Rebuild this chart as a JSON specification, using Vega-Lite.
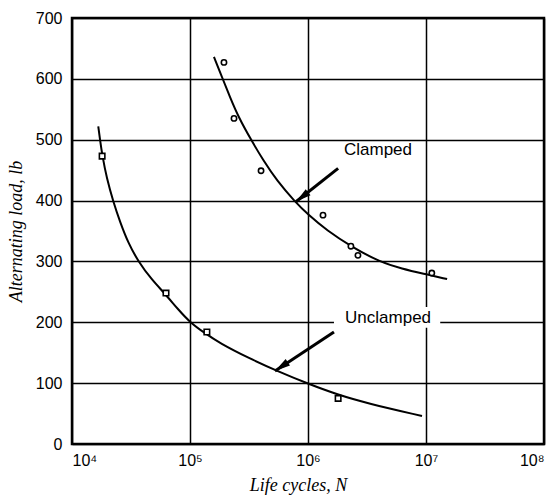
{
  "$schema": "https://vega.github.io/schema/vega-lite/v6.json",
  "width": 472,
  "height": 426,
  "autosize": "none",
  "padding": {"left": 72, "top": 18, "right": 14, "bottom": 57},
  "background": "white",
  "config": {
    "view": {"stroke": "black", "strokeWidth": 2.5},
    "axis": {"domain": false, "ticks": false, "grid": true, "gridColor": "black", "gridWidth": 1.5, "gridOpacity": 1,
             "labelFont": "Liberation Sans", "labelFontSize": 16, "labelColor": "black",
             "titleFont": "Liberation Serif", "titleFontStyle": "italic", "titleFontWeight": "normal", "titleFontSize": 18, "titleColor": "black"}
  },
  "datasets": {
    "clampedPts": [
      {"N": 194000, "load": 627},
      {"N": 236000, "load": 535},
      {"N": 400000, "load": 449},
      {"N": 1340000, "load": 376},
      {"N": 2310000, "load": 325},
      {"N": 2650000, "load": 310},
      {"N": 11200000, "load": 281}
    ],
    "unclampedPts": [
      {"N": 18000, "load": 473},
      {"N": 62600, "load": 248},
      {"N": 139000, "load": 184},
      {"N": 1800000, "load": 75}
    ],
    "clampedCurve": [
      {"N": 159600, "load": 636},
      {"N": 189300, "load": 600},
      {"N": 218300, "load": 570},
      {"N": 256500, "load": 538},
      {"N": 328900, "load": 500},
      {"N": 418000, "load": 466},
      {"N": 543500, "load": 433},
      {"N": 776000, "load": 398},
      {"N": 1000000, "load": 377},
      {"N": 1445000, "load": 351},
      {"N": 2340000, "load": 324},
      {"N": 4070000, "load": 299},
      {"N": 6300000, "load": 288},
      {"N": 9440000, "load": 280},
      {"N": 15100000, "load": 271}
    ],
    "unclampedCurve": [
      {"N": 16700, "load": 522},
      {"N": 17270, "load": 500},
      {"N": 18070, "load": 474},
      {"N": 19680, "load": 437},
      {"N": 22390, "load": 398},
      {"N": 25530, "load": 365},
      {"N": 29990, "load": 330},
      {"N": 36460, "load": 300},
      {"N": 47330, "load": 270},
      {"N": 61380, "load": 247},
      {"N": 79400, "load": 221},
      {"N": 100000, "load": 200},
      {"N": 131800, "load": 183},
      {"N": 177800, "load": 166},
      {"N": 316000, "load": 141},
      {"N": 562000, "load": 119},
      {"N": 1000000, "load": 99},
      {"N": 1780000, "load": 81},
      {"N": 3160000, "load": 67},
      {"N": 9250000, "load": 46}
    ],
    "arrows": [
      {"name": "Clamped", "N1": 1800000, "load1": 453, "N2": 790000, "load2": 398, "angle": 232},
      {"name": "Unclamped", "N1": 1660000, "load1": 184, "N2": 525000, "load2": 120, "angle": 236}
    ],
    "labels": [
      {"text": "Clamped", "N": 3920000, "load": 483},
      {"text": "Unclamped", "N": 4770000, "load": 207}
    ],
    "mask": [
      {"N1": 1660000, "N2": 13200000, "load1": 191, "load2": 225}
    ]
  },
  "layer": [
    {
      "data": {"name": "mask"},
      "mark": {"type": "rect", "fill": "white"},
      "encoding": {
        "x": {"field": "N1", "type": "quantitative", "scale": {"type": "log", "domain": [10000, 100000000], "nice": false},
              "axis": {"values": [10000, 100000, 1000000, 10000000, 100000000], "title": "Life cycles, N", "labelPadding": 8, "titlePadding": 8, "titleX": 226,
                       "labelExpr": "'10' + ['⁴','⁵','⁶','⁷','⁸'][round(log(datum.value)/LN10)-4]"}},
        "x2": {"field": "N2"},
        "y": {"field": "load1", "type": "quantitative", "scale": {"domain": [0, 700], "nice": false},
              "axis": {"values": [0, 100, 200, 300, 400, 500, 600, 700], "title": "Alternating load, lb", "labelPadding": 10, "titlePadding": 10}},
        "y2": {"field": "load2"}
      }
    },
    {
      "data": {"name": "clampedCurve"},
      "mark": {"type": "line", "color": "black", "strokeWidth": 2, "interpolate": "basis"},
      "encoding": {"x": {"field": "N", "type": "quantitative"}, "y": {"field": "load", "type": "quantitative"}}
    },
    {
      "data": {"name": "unclampedCurve"},
      "mark": {"type": "line", "color": "black", "strokeWidth": 2, "interpolate": "basis"},
      "encoding": {"x": {"field": "N", "type": "quantitative"}, "y": {"field": "load", "type": "quantitative"}}
    },
    {
      "data": {"name": "clampedPts"},
      "mark": {"type": "point", "shape": "circle", "filled": false, "stroke": "black", "strokeWidth": 1.6, "size": 28, "fill": "white", "fillOpacity": 1},
      "encoding": {"x": {"field": "N", "type": "quantitative"}, "y": {"field": "load", "type": "quantitative"}}
    },
    {
      "data": {"name": "unclampedPts"},
      "mark": {"type": "point", "shape": "square", "filled": false, "stroke": "black", "strokeWidth": 1.6, "size": 30, "fill": "white", "fillOpacity": 1},
      "encoding": {"x": {"field": "N", "type": "quantitative"}, "y": {"field": "load", "type": "quantitative"}}
    },
    {
      "data": {"name": "arrows"},
      "mark": {"type": "rule", "color": "black", "strokeWidth": 3},
      "encoding": {
        "x": {"field": "N1", "type": "quantitative"}, "y": {"field": "load1", "type": "quantitative"},
        "x2": {"field": "N2"}, "y2": {"field": "load2"}
      }
    },
    {
      "data": {"name": "arrows"},
      "mark": {"type": "point", "shape": "M0,0 L0.5,2 L-0.5,2 Z", "filled": true, "color": "black", "size": 240, "opacity": 1},
      "encoding": {
        "x": {"field": "N2", "type": "quantitative"}, "y": {"field": "load2", "type": "quantitative"},
        "angle": {"field": "angle", "type": "quantitative", "scale": null}
      }
    },
    {
      "data": {"name": "labels"},
      "mark": {"type": "text", "font": "Liberation Sans", "fontSize": 17, "color": "black", "align": "center", "baseline": "middle"},
      "encoding": {"x": {"field": "N", "type": "quantitative"}, "y": {"field": "load", "type": "quantitative"}, "text": {"field": "text"}}
    }
  ]
}
